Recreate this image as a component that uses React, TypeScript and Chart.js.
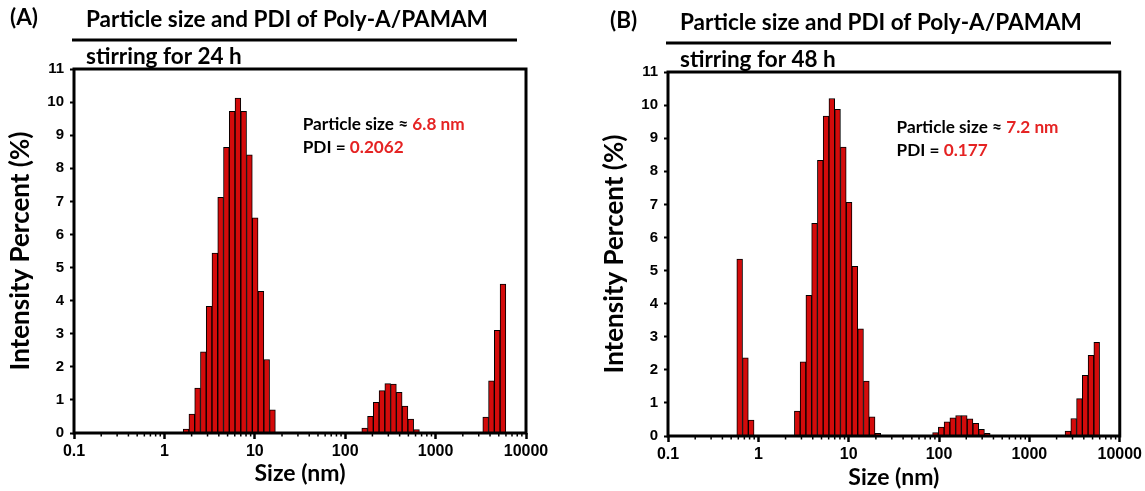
import React, { useEffect, useRef } from 'react';
import { Chart, registerables } from 'chart.js';

Chart.register(...registerables);

// ---- Data (Malvern size bins, nm) and intensity (%) ----
const sizeA = [1.736, 2.01, 2.328, 2.696, 3.122, 3.615, 4.187, 4.849, 5.615, 6.503, 7.531, 8.721, 10.1, 11.7, 13.54, 15.69,
  164.2, 190.1, 220.2, 255.0, 295.3, 342.0, 396.1, 458.7, 531.2, 615.1,
  3580, 4145, 4801, 5560];
const intensityA = [0.12, 0.57, 1.36, 2.45, 3.83, 5.44, 7.12, 8.63, 9.72, 10.12, 9.72, 8.41, 6.5, 4.28, 2.22, 0.7,
  0.15, 0.5, 0.93, 1.28, 1.49, 1.48, 1.23, 0.81, 0.42, 0.1,
  0.48, 1.58, 3.1, 4.5];

const sizeB = [0.6213, 0.7195, 0.8332,
  2.696, 3.122, 3.615, 4.187, 4.849, 5.615, 6.503, 7.531, 8.721, 10.1, 11.7, 13.54, 15.69, 18.17, 21.04,
  91.28, 105.7, 122.4, 141.8, 164.2, 190.1, 220.2, 255.0, 295.3, 342.0,
  2669, 3091, 3580, 4145, 4801, 5560];
const intensityB = [5.35, 2.36, 0.48,
  0.75, 2.24, 4.25, 6.43, 8.33, 9.67, 10.2, 9.87, 8.73, 7.06, 5.13, 3.24, 1.66, 0.58, 0.08,
  0.1, 0.27, 0.43, 0.55, 0.62, 0.62, 0.52, 0.38, 0.2, 0.08,
  0.15, 0.53, 1.13, 1.83, 2.44, 2.83];

const yTicks = [0, 1, 2, 3, 4, 5, 6, 7, 8, 9, 10, 11];
const xTickLabels = ['0.1', '1', '10', '100', '1000', '10000'];

const panelTitle = 'Particle size and PDI of Poly-A/PAMAM';
const subtitleA = 'stirring for 24 h';
const subtitleB = 'stirring for 48 h';
const sizeTextA = '6.8 nm';
const pdiTextA = '0.2062';
const sizeTextB = '7.2 nm';
const pdiTextB = '0.177';

const HEAD_FONT = 'Lato';
const TICK_FONT = 'Liberation Sans';
const RED_TEXT = '#e52323';

type PanelProps = {
  tag: string;
  tagDx: number;
  subtitle: string;
  sizes: number[];
  values: number[];
  sizeText: string;
  pdiText: string;
  width: number;
  pad: { left: number; top: number; right: number; bottom: number };
  yAxisWidth: number;
  xAxisHeight: number;
  yTitlePad: number;
  xTitlePad: number;
};

function fitSize(ctx: CanvasRenderingContext2D, text: string, target: number, family: string) {
  ctx.font = `bold 20px ${family}`;
  const w = ctx.measureText(text).width;
  return (20 * target) / w;
}

function makeDecor(p: PanelProps) {
  return {
    id: 'decor',
    afterDraw(chart: any) {
      const { ctx, chartArea: a } = chart;
      const xs = chart.scales.x;
      ctx.save();
      // frame
      ctx.strokeStyle = '#000';
      ctx.lineWidth = 3;
      ctx.strokeRect(a.left, a.top, a.right - a.left, a.bottom - a.top);
      // minor ticks on log axis
      ctx.lineWidth = 1.5;
      for (let d = -1; d < 4; d++) {
        for (let k = 2; k < 10; k++) {
          const px = xs.getPixelForValue(k * Math.pow(10, d));
          ctx.beginPath();
          ctx.moveTo(px, a.bottom);
          ctx.lineTo(px, a.bottom + 3.5);
          ctx.stroke();
        }
      }
      // header
      ctx.fillStyle = '#000';
      ctx.textBaseline = 'middle';
      ctx.textAlign = 'left';
      const hs = fitSize(ctx, panelTitle, 402, HEAD_FONT);
      ctx.font = `bold ${hs}px ${HEAD_FONT}`;
      ctx.fillText(p.tag, a.left + p.tagDx, a.top - 51);
      ctx.fillText(panelTitle, a.left + 12, a.top - 49);
      ctx.fillText(p.subtitle, a.left + 12, a.top - 12);
      ctx.lineWidth = 3;
      ctx.beginPath();
      ctx.moveTo(a.left - 2, a.top - 29);
      ctx.lineTo(a.left + 443, a.top - 29);
      ctx.stroke();
      // annotation
      const l1 = 'Particle size \u2248 ';
      const l2 = 'PDI = ';
      const as = fitSize(ctx, l1 + p.sizeText, 162, HEAD_FONT);
      ctx.font = `bold ${as}px ${HEAD_FONT}`;
      const ax = a.left + 0.506 * (a.right - a.left);
      const ay = a.top + 55;
      ctx.fillStyle = '#000';
      ctx.fillText(l1, ax, ay);
      ctx.fillText(l2, ax, ay + 23);
      ctx.fillStyle = RED_TEXT;
      ctx.fillText(p.sizeText, ax + ctx.measureText(l1).width, ay);
      ctx.fillText(p.pdiText, ax + ctx.measureText(l2).width, ay + 23);
      ctx.restore();
    },
  };
}

function Panel(p: PanelProps) {
  const ref = useRef<HTMLCanvasElement | null>(null);
  useEffect(() => {
    if (!ref.current) return;
    const chart = new Chart(ref.current, {
      type: 'bar',
      data: {
        datasets: [
          {
            data: p.sizes.map((s, i) => ({ x: s, y: p.values[i] })),
            backgroundColor: '#d40b0b',
            borderColor: '#000',
            borderWidth: 1,
            barPercentage: 1,
            categoryPercentage: 1,
          } as any,
        ],
      },
      options: {
        responsive: false,
        animation: false,
        devicePixelRatio: 1,
        layout: { padding: p.pad },
        plugins: { legend: { display: false }, tooltip: { enabled: false } },
        scales: {
          x: {
            type: 'logarithmic',
            min: 0.1,
            max: 10000,
            offset: false,
            afterBuildTicks: (s: any) => {
              s.ticks = s.ticks.filter((t: any) => xTickLabels.includes(String(t.value)));
            },
            afterFit: (s: any) => {
              s.height = p.xAxisHeight;
            },
            grid: {
              display: true,
              drawOnChartArea: false,
              drawTicks: true,
              tickLength: 6,
              tickWidth: 2.5,
              tickColor: '#000',
              offset: false,
            },
            border: { display: false },
            ticks: {
              autoSkip: false,
              maxRotation: 0,
              padding: 3,
              color: '#000',
              font: { family: TICK_FONT, weight: 'bold', size: 16 },
              callback: (v: any) => String(v),
            },
            title: {
              display: true,
              text: 'Size (nm)',
              color: '#000',
              font: { family: HEAD_FONT, weight: 'bold', size: 23 },
              padding: { top: 0, bottom: p.xTitlePad },
            },
          },
          y: {
            type: 'linear',
            min: yTicks[0],
            max: yTicks[yTicks.length - 1],
            afterFit: (s: any) => {
              s.width = p.yAxisWidth;
            },
            ticks: {
              stepSize: 1,
              color: '#000',
              padding: 6,
              font: { family: TICK_FONT, weight: 'bold', size: 15 },
            },
            grid: {
              drawOnChartArea: false,
              drawTicks: true,
              tickLength: 4,
              tickWidth: 2,
              tickColor: '#000',
            },
            border: { display: false },
            title: {
              display: true,
              text: 'Intensity Percent (%)',
              color: '#000',
              font: { family: HEAD_FONT, weight: 'bold', size: 26 },
              padding: { top: p.yTitlePad, bottom: 0 },
            },
          },
        },
      } as any,
      plugins: [makeDecor(p)],
    });
    return () => chart.destroy();
  }, []);
  return <canvas ref={ref} width={p.width} height={491} style={{ display: 'block' }} />;
}

export default function App() {
  return (
    <div style={{ position: 'fixed', left: 0, top: 0, width: 1145, height: 491, background: '#fff' }}>
      <div style={{ position: 'absolute', left: 0, top: 0 }}>
        <Panel
          tag="(A)"
          tagDx={-64}
          subtitle={subtitleA}
          sizes={sizeA}
          values={intensityA}
          sizeText={sizeTextA}
          pdiText={pdiTextA}
          width={580}
          pad={{ left: 0, top: 69, right: 54, bottom: 0 }}
          yAxisWidth={74}
          xAxisHeight={58}
          yTitlePad={5}
          xTitlePad={4}
        />
      </div>
      <div style={{ position: 'absolute', left: 580, top: 0 }}>
        <Panel
          tag="(B)"
          tagDx={-58}
          subtitle={subtitleB}
          sizes={sizeB}
          values={intensityB}
          sizeText={sizeTextB}
          pdiText={pdiTextB}
          width={565}
          pad={{ left: 14, top: 72, right: 23, bottom: 0 }}
          yAxisWidth={74}
          xAxisHeight={55}
          yTitlePad={5}
          xTitlePad={0}
        />
      </div>
    </div>
  );
}
